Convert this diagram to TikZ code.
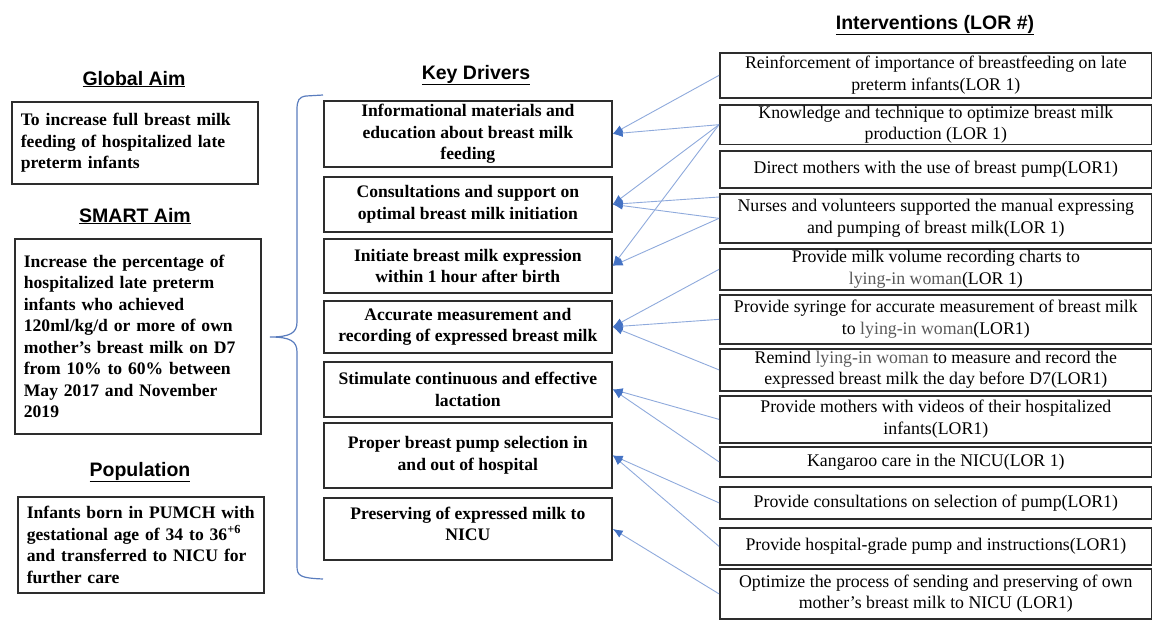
\documentclass[tikz,border=0pt]{standalone}
\usepackage{fontspec}
\setmainfont{Liberation Serif}
\setsansfont{Liberation Sans}
\usetikzlibrary{calc}
\usetikzlibrary{positioning}
\usetikzlibrary{arrows.meta}

\definecolor{boxgray}{RGB}{45,45,45}
\definecolor{lineblue}{RGB}{143,170,220}
\definecolor{tipblue}{RGB}{68,114,196}
\definecolor{braceblue}{RGB}{90,125,190}
\definecolor{lyinggray}{RGB}{90,90,90}

\begin{document}
\begin{tikzpicture}
		[
		x=1pt, y=-1pt,
		font=\fontsize{17.6}{21.5}\selectfont,
		connector/.style={draw=lineblue,line width=0.9pt,-{Latex[length=10pt,width=8pt,color=tipblue]}}
		]
		\useasboundingbox (0,0) rectangle (1152,619);
		
		% Box styles: aims on the left, drivers in the middle, interventions on the right
		\tikzstyle{title node}=[anchor=base,inner sep=0,font=\sffamily\bfseries\fontsize{19.5}{22}\selectfont];
		\tikzstyle{aim box}=[draw=boxgray,line width=1.7pt,anchor=north west,inner xsep=9,inner ysep=2,text width=228,align=left,font=\fontsize{17.6}{21.5}\selectfont\bfseries];
		\tikzstyle{driver box}=[draw=boxgray,line width=1.7pt,anchor=north west,inner ysep=2,minimum width=288,align=center,font=\fontsize{17.6}{21.5}\selectfont\bfseries];
		\tikzstyle{lor box}=[draw=boxgray,line width=1.7pt,anchor=north west,inner ysep=1,minimum width=432,align=center,font=\fontsize{17.8}{21.5}\selectfont];
		
		% Headings
		\node(tglobal)[title node]at(134,85){\underline{Global Aim}};
		\node(tsmart)[title node]at(135,222){\underline{SMART Aim}};
		\node(tpop)[title node]at(140,476){\underline{Population}};
		\node(tdrv)[title node]at(476,79){\underline{Key Drivers}};
		\node(tlor)[title node]at(935,29){\underline{Interventions (LOR \#)}};
		
		% Aims and population
		\node(aim)[aim box,minimum height=82]at(11,101){To increase full breast milk\\feeding of hospitalized late\\preterm infants};
		\node(smart)[aim box,minimum height=195]at(14,238){Increase the percentage of\\hospitalized late preterm\\infants who achieved\\120ml/kg/d or more of own\\mother’s breast milk on D7\\from 10\% to 60\% between\\May 2017 and November\\2019};
		\node(pop)[aim box,minimum height=96]at(17,496){Infants born in PUMCH with\\gestational age of 34 to 36\textsuperscript{+6}\\and transferred to NICU for\\further care};
		
		% Brace in front of the drivers
		\draw[braceblue,line width=1.2pt](323,95)--(306,96) .. controls (299,97) and (297,100) .. (297,110)
			--(297,322) .. controls (297,333) and (290,337) .. (270,337)
			.. controls (290,337) and (297,341) .. (297,352)
			--(297,566) .. controls (297,576) and (300,578) .. (323,579);
		
		% Key drivers
		\node(d1)[driver box,minimum height=66]at(323,100){Informational materials and\\education about breast milk\\feeding};
		\node(d2)[driver box,minimum height=55]at(323,176){Consultations and support on\\optimal breast milk initiation};
		\node(d3)[driver box,minimum height=54]at(323,238){Initiate breast milk expression\\within 1 hour after birth};
		\node(d4)[driver box,minimum height=52]at(323,300){Accurate measurement and\\recording of expressed breast milk};
		\node(d5)[driver box,minimum height=55]at(323,361){Stimulate continuous and effective\\lactation};
		\node(d6)[driver box,minimum height=65]at(323,422){Proper breast pump selection in\\and out of hospital};
		\node(d7)[driver box,minimum height=62,text depth=10]at(323,497){Preserving of expressed milk to\\NICU};
		
		% Interventions
		\node(i1)[lor box,minimum height=45]at(719,52){Reinforcement of importance of breastfeeding on late\\preterm infants(LOR 1)};
		\node(i2)[lor box,minimum height=39]at(719,104){Knowledge and technique to optimize breast milk\\production (LOR 1)};
		\node(i3)[lor box,minimum height=37]at(719,150){Direct mothers with the use of breast pump(LOR1)};
		\node(i4)[lor box,minimum height=49]at(719,193){Nurses and volunteers supported the manual expressing\\and pumping of breast milk(LOR 1)};
		\node(i5)[lor box,minimum height=41]at(719,248){Provide milk volume recording charts to\\{\color{lyinggray}lying-in woman}(LOR 1)};
		\node(i6)[lor box,minimum height=49]at(719,294){Provide syringe for accurate measurement of breast milk\\to {\color{lyinggray}lying-in woman}(LOR1)};
		\node(i7)[lor box,minimum height=42]at(719,348){Remind {\color{lyinggray}lying-in woman} to measure and record the\\expressed breast milk the day before D7(LOR1)};
		\node(i8)[lor box,minimum height=47]at(719,395){Provide mothers with videos of their hospitalized\\infants(LOR1)};
		\node(i9)[lor box,minimum height=30]at(719,446){Kangaroo care in the NICU(LOR 1)};
		\node(i10)[lor box,minimum height=32]at(719,486){Provide consultations on selection of pump(LOR1)};
		\node(i11)[lor box,minimum height=37]at(719,527){Provide hospital-grade pump and instructions(LOR1)};
		\node(i12)[lor box,minimum height=50]at(719,568){Optimize the process of sending and preserving of own\\mother's breast milk to NICU (LOR1)};
		
		% Connectors: intervention to driver
		\draw[connector](i1.west)--(d1.east);
		\draw[connector](i2.west)--(d1.east);
		\draw[connector](i2.west)--(d2.east);
		\draw[connector](i2.west)--(d3.east);
		\draw[connector]([yshift=-4pt]i4.north west)--(d2.east);
		\draw[connector](i4.west)--(d2.east);
		\draw[connector](i4.west)--(d3.east);
		\draw[connector](i5.west)--(d4.east);
		\draw[connector](i6.west)--(d4.east);
		\draw[connector](i7.west)--(d4.east);
		\draw[connector](i8.west)--(d5.east);
		\draw[connector](i9.west)--(d5.east);
		\draw[connector](i10.west)--(d6.east);
		\draw[connector](i11.west)--(d6.east);
		\draw[connector](i12.west)--(d7.east);
		\end{tikzpicture}
\end{document}
